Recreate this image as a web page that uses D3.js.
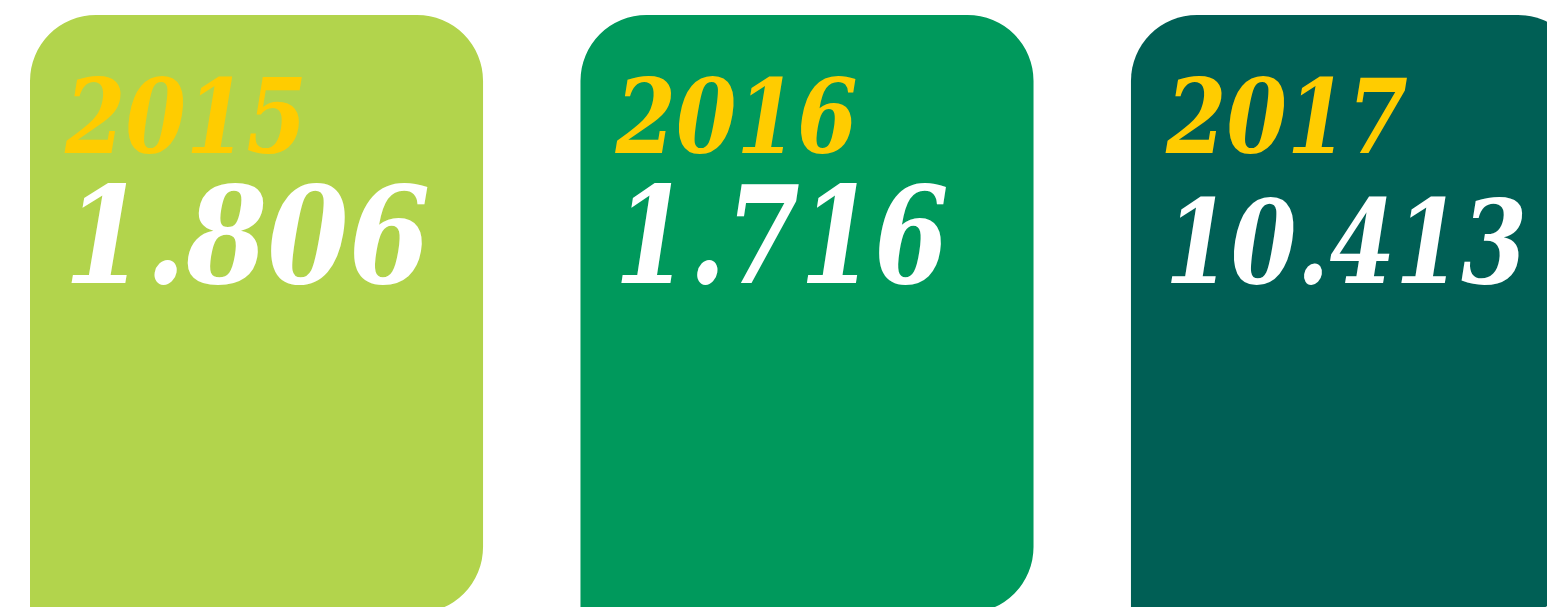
<!DOCTYPE html>
<html>
<head>
<meta charset="utf-8">
<script src="https://cdn.jsdelivr.net/npm/d3@7"></script>
<style>
  html, body { margin: 0; padding: 0; background: #ffffff; overflow: hidden; }
  svg { display: block; }
  text { font-family: "DejaVu Serif", serif; font-weight: bold; font-style: italic; }
</style>
</head>
<body>
<svg id="chart" width="1547" height="607"></svg>
<script>
// ---- data ----
const years = ["2015", "2016", "2017"];
const values = [1806, 1716, 10413];
const cardColors = ["#b2d44c", "#00995c", "#005f55"];

// ---- setup ----
const svg = d3.select("#chart");
const de = d3.formatLocale({ decimal: ",", thousands: ".", grouping: [3], currency: ["", " €"] });
const fmt = de.format(",");

const x = d3.scaleBand()
  .domain(years)
  .range([30, 1584])
  .paddingInner(0.177)
  .paddingOuter(0);

const cardTop = 15, cardBottom = 613, rad = 66;

function cardPath(x0, w) {
  const x1 = x0 + w;
  const p = d3.path();
  p.moveTo(x0, cardBottom);
  p.lineTo(x0, cardTop + rad);
  p.arcTo(x0, cardTop, x0 + rad, cardTop, rad);
  p.lineTo(x1 - rad, cardTop);
  p.arcTo(x1, cardTop, x1, cardTop + rad, rad);
  p.lineTo(x1, cardBottom - rad);
  p.arcTo(x1, cardBottom, x1 - rad, cardBottom, rad);
  p.closePath();
  return p.toString();
}

const data = years.map((y, i) => ({ year: y, value: values[i], color: cardColors[i] }));

const g = svg.selectAll("g.card").data(data).join("g").attr("class", "card");

g.append("path")
  .attr("d", d => cardPath(x(d.year), x.bandwidth()))
  .attr("fill", d => d.color);

g.append("text")
  .attr("x", d => x(d.year) + 35)
  .attr("y", 153)
  .attr("font-size", 103)
  .attr("fill", "#ffcc00")
  .attr("textLength", 242)
  .attr("lengthAdjust", "spacingAndGlyphs")
  .text(d => d.year);

g.append("text")
  .attr("x", d => x(d.year) + 34)
  .attr("y", 283)
  .attr("font-size", d => fmt(d.value).length > 5 ? 116 : 135)
  .attr("fill", "#ffffff")
  .attr("textLength", d => { const s = fmt(d.value); return s.length > 5 ? 362 : (s === "1.716" ? 334 : 366); })
  .attr("lengthAdjust", "spacingAndGlyphs")
  .text(d => fmt(d.value));
</script>
</body>
</html>
